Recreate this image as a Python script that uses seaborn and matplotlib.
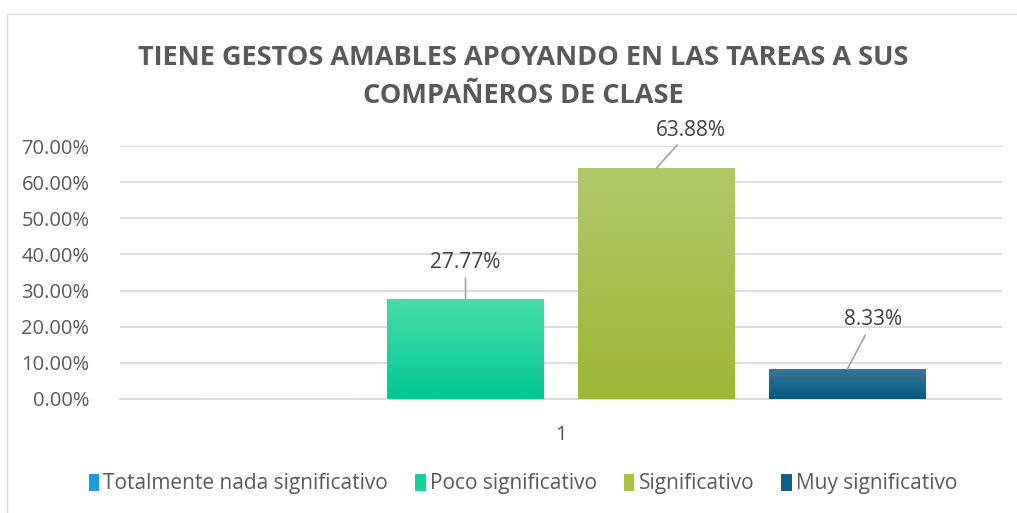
import matplotlib
matplotlib.use("Agg")
import matplotlib.pyplot as plt
import matplotlib.ticker as mticker
from matplotlib.colors import LinearSegmentedColormap
from matplotlib.patches import Patch, Rectangle
import numpy as np
import pandas as pd
import seaborn as sns

# --- data ---
categories = ['Totalmente nada significativo', 'Poco significativo',
              'Significativo', 'Muy significativo']
values = [0.0, 0.2777, 0.6388, 0.0833]
group_labels = ['1', '1', '1', '1']

title = 'TIENE GESTOS AMABLES APOYANDO EN LAS TAREAS A SUS\nCOMPAÑEROS DE CLASE'

df = pd.DataFrame({'Grupo': group_labels, 'Categoria': categories, 'Valor': values})

# colours (legend swatch, gradient top, gradient bottom)
solid = {'Totalmente nada significativo': '#1c9be0',
         'Poco significativo': '#13d39b',
         'Significativo': '#a6c442',
         'Muy significativo': '#0f6189'}
grad = {'Totalmente nada significativo': ('#4fb3ea', '#0b8fd8'),
        'Poco significativo': ('#48dcaa', '#00c994'),
        'Significativo': ('#b2c96b', '#9db734'),
        'Muy significativo': ('#3c7697', '#005a84')}

sns.set_theme(style="white")
plt.rcParams['font.family'] = ['Open Sans', 'DejaVu Sans']
text_grey = '#595959'

fig = plt.figure(figsize=(10.17, 5.13), dpi=100)
ax = fig.add_axes([120 / 1017, 1 - 399 / 513, 882 / 1017, 253 / 513])

sns.barplot(data=df, x='Grupo', y='Valor', hue='Categoria', hue_order=categories,
            palette=solid, width=0.8, gap=0.18, legend=False, ax=ax, zorder=3)

ax.set_ylim(0, 0.70)
ax.yaxis.set_major_locator(mticker.MultipleLocator(0.10))
ax.yaxis.set_major_formatter(mticker.PercentFormatter(xmax=1.0, decimals=2))
ax.grid(axis='y', color='#d9d9d9', linewidth=1.3, zorder=0)
ax.set_axisbelow(True)
for s in ['top', 'right', 'left']:
    ax.spines[s].set_visible(False)
ax.spines['bottom'].set_color('#d9d9d9')
ax.spines['bottom'].set_linewidth(1.3)
ax.set_xlabel('')
ax.set_ylabel('')
ax.tick_params(axis='y', labelsize=14.5, labelcolor=text_grey, length=0, pad=22)
ax.tick_params(axis='x', labelsize=14.5, labelcolor=text_grey, length=0, pad=19)

# gradient fill clipped to each bar
bars = [p for p in ax.patches if isinstance(p, Rectangle)][:len(categories)]
for cat, bar in zip(categories, bars):
    h = bar.get_height()
    if h <= 0:
        continue
    x0, w = bar.get_x(), bar.get_width()
    cmap = LinearSegmentedColormap.from_list(cat, [grad[cat][1], grad[cat][0]])
    img = ax.imshow(np.linspace(0, 1, 100).reshape(-1, 1), cmap=cmap, aspect='auto',
                    origin='lower', extent=[x0, x0 + w, 0, h], zorder=3)
    img.set_clip_path(bar)
    bar.set_facecolor('none')
    bar.set_edgecolor('none')
ax.set_xlim(-0.462, 0.462)
ax.set_ylim(0, 0.70)

# data labels with leader lines (offsets in pixels)
label_offsets = {'Poco significativo': (0, 36),
                 'Significativo': (34, 38),
                 'Muy significativo': (26, 49)}
for cat, bar, v in zip(categories, bars, values):
    if cat not in label_offsets:
        continue
    xc = bar.get_x() + bar.get_width() / 2
    ax.annotate(f'{v * 100:.2f}%', xy=(xc, v), xytext=label_offsets[cat],
                textcoords='offset pixels', ha='center', va='center',
                fontsize=15, color='#404040', zorder=5,
                arrowprops=dict(arrowstyle='-', color='#a6a6a6', lw=1.2,
                                shrinkA=1, shrinkB=0))

fig.text(523 / 1017, 1 - 77 / 513, title, ha='center', va='center',
         fontsize=19.5, fontweight='bold', color=text_grey, linespacing=1.58)

handles = [Patch(facecolor=solid[c], edgecolor='none') for c in categories]
fig.legend(handles, categories, loc='center', bbox_to_anchor=(523 / 1017, 1 - 484 / 513),
           ncol=4, frameon=False, fontsize=15, labelcolor=text_grey,
           handlelength=0.5, handleheight=0.9, handletextpad=0.2, columnspacing=1.3)

# chart area border
fig.add_artist(Rectangle((7 / 1017, -0.05), 1.1, 1 - 14 / 513 + 0.05,
                         transform=fig.transFigure, fill=False,
                         edgecolor='#d9d9d9', linewidth=1.0))

fig.savefig('out.png', dpi=100)
